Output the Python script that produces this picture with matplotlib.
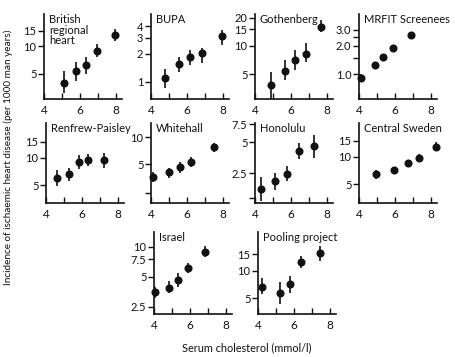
import matplotlib
matplotlib.use("Agg")
import matplotlib.pyplot as plt
from matplotlib.ticker import FixedLocator, FixedFormatter, NullLocator

plt.rcParams['font.family'] = ['Lato', 'DejaVu Sans']

# study names
titles = ["British\nregional\nheart", "BUPA", "Gothenberg", "MRFIT Screenees",
          "Renfrew-Paisley", "Whitehall", "Honolulu", "Central Sweden",
          "Israel", "Pooling project"]

# serum cholesterol (mmol/l) for each point
chol = [
    [5.1, 5.8, 6.35, 6.95, 7.95],
    [4.77, 5.56, 6.2, 6.84, 7.96],
    [4.88, 5.68, 6.25, 6.84, 7.69],
    [4.1, 4.87, 5.36, 5.9, 6.92],
    [4.63, 5.31, 5.85, 6.35, 7.26],
    [4.09, 5.03, 5.62, 6.23, 7.53],
    [4.31, 5.1, 5.78, 6.48, 7.27],
    [4.97, 5.96, 6.71, 7.36, 8.32],
    [4.06, 4.81, 5.35, 5.88, 6.82],
    [4.23, 5.2, 5.79, 6.4, 7.47],
]

# incidence per 1000 man years
rate = [
    [3.9, 5.3, 6.15, 9.0, 13.5],
    [1.09, 1.55, 1.83, 2.02, 3.1],
    [3.8, 5.35, 7.0, 8.3, 16.0],
    [0.91, 1.25, 1.53, 1.92, 2.62],
    [5.95, 6.6, 8.9, 9.4, 9.4],
    [3.64, 4.07, 4.6, 5.35, 7.7],
    [1.74, 2.1, 2.45, 4.15, 4.6],
    [6.4, 7.15, 8.45, 9.6, 12.85],
    [3.54, 3.88, 4.6, 6.05, 8.9],
    [6.7, 5.7, 7.1, 12.3, 15.4],
]
rate_low = [
    [3.0, 4.1, 4.9, 7.6, 11.4],
    [0.85, 1.28, 1.51, 1.58, 2.49],
    [2.75, 4.3, 5.6, 6.7, 13.9],
    [0.83, 1.13, 1.5, 1.88, 2.58],
    [4.9, 5.6, 7.45, 8.2, 7.8],
    [3.21, 3.49, 3.97, 4.71, 6.92],
    [1.35, 1.72, 2.1, 3.4, 3.5],
    [5.7, 6.6, 7.8, 8.9, 11.8],
    [3.07, 3.4, 3.91, 5.4, 7.8],
    [5.6, 4.4, 5.8, 10.6, 12.7],
]
rate_high = [
    [5.3, 6.7, 7.6, 10.6, 15.6],
    [1.36, 1.83, 2.23, 2.3, 3.67],
    [5.3, 7.0, 9.0, 10.8, 18.8],
    [1.0, 1.36, 1.56, 1.96, 2.66],
    [7.3, 7.65, 10.7, 11.0, 11.3],
    [4.14, 4.52, 5.35, 6.09, 8.72],
    [2.3, 2.53, 2.93, 4.9, 5.9],
    [7.15, 7.8, 9.2, 10.7, 14.4],
    [3.95, 4.53, 5.48, 6.8, 10.2],
    [8.4, 7.5, 8.75, 14.4, 18.4],
]

# y axis ticks and labels (log scale)
ytick_values = [
    [5, 10, 15], [1, 2, 3, 4], [5, 10, 15, 20], [1.0, 1.5, 2.0, 2.5, 3.0],
    [5, 10, 15], [2.4, 5, 10], [1.44, 2.5, 5, 7.5], [5, 10, 15],
    [2.5, 5, 7.5, 10], [5, 10, 15],
]
ytick_labels = [
    ["5", "10", "15"], ["1", "2", "3", "4"], ["5", "10", "15", "20"],
    ["1.0", "", "2.0", "", "3.0"], ["5", "10", "15"], ["", "5", "10"],
    ["", "2.5", "5", "7.5"], ["5", "10", "15"], ["2.5", "5", "7.5", "10"],
    ["5", "10", "15"],
]
ylims = [(2.6, 23), (0.65, 5.4), (2.73, 21.8), (0.54, 4.4), (3.2, 23.9),
         (1.85, 14.4), (1.28, 7.7), (3.13, 23.3), (2.12, 14.0), (3.4, 26.1)]

W, H = 455, 357
fig = plt.figure(figsize=(W / 100, H / 100), dpi=100)
fig.patch.set_facecolor("white")

# panel boxes in pixels: left, top, bottom
lefts = [44, 151, 255, 359, 46, 151, 255, 359, 154, 258]
tops = [14, 14, 14, 14, 123, 123, 123, 123, 232, 232]
bottoms = [99, 99, 99, 99, 203, 203, 203, 203, 314, 314]
width = 78
ink = "#111111"

for i in range(10):
    l, t, b = lefts[i], tops[i], bottoms[i]
    ax = fig.add_axes([l / W, 1 - b / H, width / W, (b - t) / H])
    ax.set_yscale("log")
    ax.set_xlim(4, 8.35)
    ax.set_ylim(*ylims[i])
    y = rate[i]
    lo = [y[k] - rate_low[i][k] for k in range(5)]
    hi = [rate_high[i][k] - y[k] for k in range(5)]
    ax.errorbar(chol[i], y, yerr=[lo, hi], fmt="o", color=ink, ms=4.8,
                elinewidth=1.2, capsize=0, clip_on=False)
    for s in ["top", "right"]:
        ax.spines[s].set_visible(False)
    for s in ["left", "bottom"]:
        ax.spines[s].set_linewidth(1.2)
        ax.spines[s].set_color(ink)
    ax.xaxis.set_major_locator(FixedLocator([4, 5, 6, 7, 8]))
    ax.xaxis.set_major_formatter(FixedFormatter(["4", "", "6", "", "8"]))
    ax.tick_params(axis="x", direction="in", length=4, width=1, pad=4,
                   labelsize=8.5, colors=ink)
    ax.yaxis.set_major_locator(FixedLocator(ytick_values[i]))
    ax.yaxis.set_major_formatter(FixedFormatter(ytick_labels[i]))
    ax.yaxis.set_minor_locator(NullLocator())
    ax.tick_params(axis="y", direction="out", length=4, width=1, pad=1.5,
                   labelsize=8, colors=ink)
    ax.text(5 / width, 1.0, titles[i], transform=ax.transAxes, va="top",
            ha="left", fontsize=8, color=ink, linespacing=0.95)

fig.text(8 / W, 1 - 157 / H,
         "Incidence of ischaemic heart disease (per 1000 man years)",
         rotation=90, va="center", ha="center", fontsize=7.2, color=ink)
fig.text(247 / W, 1 - 348 / H, "Serum cholesterol (mmol/l)",
         va="center", ha="center", fontsize=7.8, color=ink)

fig.savefig("out.png", dpi=100, facecolor="white")
